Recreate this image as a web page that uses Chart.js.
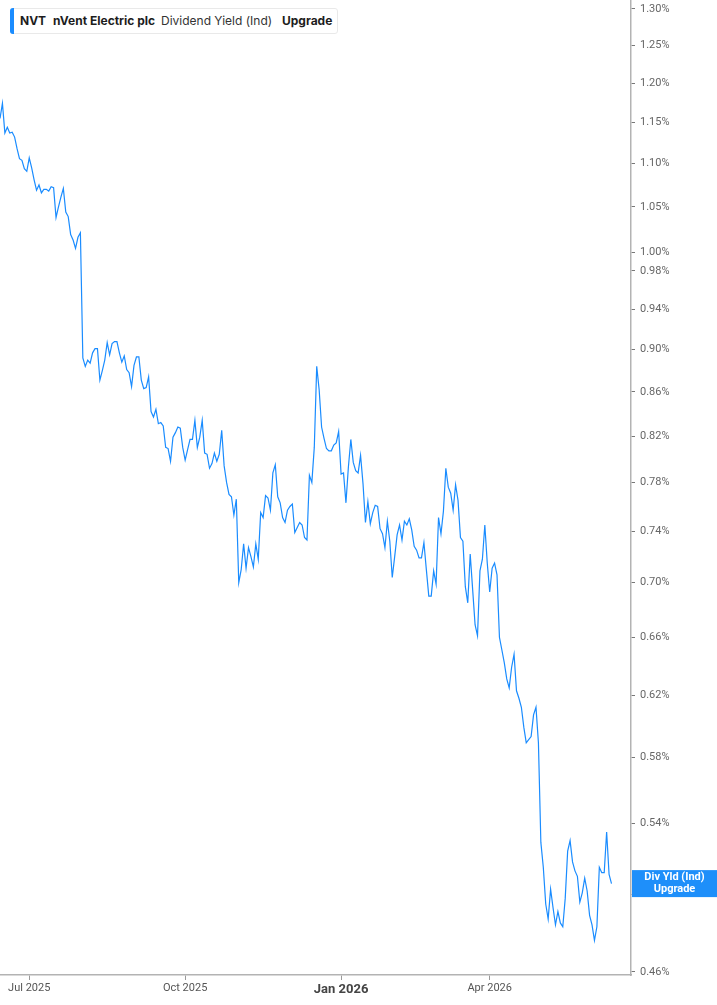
<!DOCTYPE html>
<html>
<head>
<meta charset="utf-8">
<script src="https://cdn.jsdelivr.net/npm/chart.js@4.4.1/dist/chart.umd.min.js"></script>
<style>
html,body{margin:0;padding:0;background:#fff;}
#wrap{position:relative;width:717px;height:1005px;overflow:hidden;}
#legend{position:absolute;left:10px;top:8px;width:328px;height:26px;border:1px solid #e9e9e9;border-radius:3px;box-sizing:border-box;background:#fff;font-family:Inter,'Noto Sans',sans-serif;font-size:12px;z-index:2;}
#legend .bar{position:absolute;left:-1px;top:-1px;width:4px;height:26px;background:#1a8cff;border-radius:3px 0 0 3px;}
#legend span{position:absolute;top:4px;white-space:nowrap;color:#1d1d1d;line-height:16px;}
#legend .b{font-weight:700;}
</style>
</head>
<body>
<div id="wrap">
  <canvas id="c"></canvas>
  <div id="legend">
    <div class="bar"></div>
    <span class="b" style="left:9px">NVT</span>
    <span class="b" style="left:42px">nVent Electric plc</span>
    <span style="left:150px;color:#333">Dividend Yield (Ind)</span>
    <span class="b" style="left:271px">Upgrade</span>
  </div>
</div>
<script>
// Trading-day index 0 = first day shown; value = indicated dividend yield (%)
const yieldPct = [
  1.155,1.174,1.137,1.144,1.137,1.138,1.132,1.118,1.106,1.104,
  1.094,1.091,1.107,1.095,1.081,1.069,1.075,1.066,1.070,1.070,
  1.068,1.073,1.072,1.038,1.050,1.061,1.071,1.044,1.039,1.019,
  1.013,1.004,1.016,1.021,0.892,0.884,0.890,0.887,0.897,0.901,
  0.901,0.871,0.880,0.890,0.907,0.895,0.906,0.908,0.908,0.897,
  0.888,0.894,0.881,0.878,0.865,0.885,0.893,0.893,0.871,0.863,
  0.864,0.874,0.842,0.837,0.844,0.831,0.832,0.829,0.810,0.809,
  0.798,0.819,0.823,0.828,0.827,0.810,0.799,0.808,0.817,0.817,
  0.834,0.810,0.819,0.834,0.805,0.804,0.792,0.796,0.805,0.798,
  0.804,0.825,0.794,0.780,0.770,0.768,0.753,0.766,0.700,0.710,
  0.730,0.711,0.727,0.720,0.712,0.730,0.718,0.755,0.751,0.769,
  0.767,0.757,0.788,0.795,0.768,0.763,0.751,0.747,0.757,0.760,
  0.762,0.739,0.743,0.747,0.745,0.735,0.733,0.786,0.780,0.810,
  0.884,0.862,0.828,0.818,0.809,0.807,0.807,0.812,0.814,0.824,
  0.787,0.788,0.763,0.793,0.817,0.797,0.790,0.788,0.803,0.779,
  0.747,0.764,0.746,0.755,0.761,0.760,0.742,0.738,0.727,0.748,
  0.732,0.704,0.720,0.737,0.745,0.733,0.748,0.745,0.750,0.741,
  0.728,0.725,0.719,0.719,0.731,0.710,0.690,0.690,0.709,0.699,
  0.751,0.738,0.756,0.792,0.776,0.771,0.757,0.778,0.765,0.735,
  0.732,0.697,0.685,0.722,0.695,0.669,0.661,0.709,0.718,0.745,
  0.715,0.693,0.711,0.715,0.706,0.660,0.651,0.642,0.631,0.625,
  0.639,0.648,0.623,0.618,0.612,0.599,0.589,0.591,0.593,0.607,
  0.612,0.589,0.529,0.515,0.495,0.487,0.503,0.493,0.484,0.491,
  0.485,0.483,0.498,0.524,0.530,0.518,0.513,0.510,0.496,0.501,
  0.509,0.502,0.489,0.484,0.476,0.483,0.515,0.512,0.512,0.535,
  0.511,0.506
];
const xTickDays = [12, 76, 140, 201];
const xTickLabels = ['Jul 2025', 'Oct 2025', 'Jan 2026', 'Apr 2026'];
const yTickValues = [0.46,0.50,0.54,0.58,0.62,0.66,0.70,0.74,0.78,0.82,0.86,0.90,0.94,0.98,1.00,1.05,1.10,1.15,1.20,1.25,1.30];
const seriesLabel = ['Div Yld (Ind)', 'Upgrade'];

const points = yieldPct.map((v, i) => ({x: i, y: v}));
const lineColor = '#1a8cff';

const endLabel = {
  id: 'endLabel',
  afterDraw(chart) {
    const ctx = chart.ctx;
    const ys = chart.scales.y;
    const last = yieldPct[yieldPct.length - 1];
    const py = ys.getPixelForValue(last);
    const left = chart.chartArea.right + 1;
    const w = chart.width - left;
    ctx.save();
    ctx.fillStyle = '#1e8ffa';
    ctx.fillRect(left, py - 13.5, w, 27);
    ctx.fillStyle = '#ffffff';
    ctx.font = 'bold 11px Roboto, "Liberation Sans", sans-serif';
    ctx.textAlign = 'center';
    ctx.textBaseline = 'middle';
    const cx = left + w / 2;
    ctx.fillText(seriesLabel[0], cx, py - 6);
    ctx.fillText(seriesLabel[1], cx, py + 6);
    ctx.restore();
  }
};

new Chart(document.getElementById('c'), {
  type: 'line',
  data: {
    datasets: [{
      data: points,
      borderColor: lineColor,
      borderWidth: 1.2,
      pointRadius: 0,
      tension: 0,
      fill: false
    }]
  },
  options: {
    responsive: true,
    maintainAspectRatio: false,
    animation: false,
    layout: {padding: {top: 1, left: 0, right: 0, bottom: 0}},
    plugins: {legend: {display: false}, tooltip: {enabled: false}},
    scales: {
      x: {
        type: 'linear',
        min: 0,
        max: 259,
        afterBuildTicks(s) { s.ticks = xTickDays.map(v => ({value: v})); },
        afterFit(s) { s.height = 30; s.paddingLeft = 0; s.paddingRight = 0; },
        grid: {drawOnChartArea: false, drawTicks: true, tickLength: 5, color: '#9a9a9a', lineWidth: 1},
        border: {display: true, color: '#b3b3b3', width: 1.5},
        ticks: {
          autoSkip: false,
          maxRotation: 0,
          padding: 2,
          callback(v) { const i = xTickDays.indexOf(v); return i >= 0 ? xTickLabels[i] : ''; },
          font(ctx) {
            return (ctx.tick && ctx.tick.value === 140)
              ? {family: 'Roboto', size: 13, weight: 'bold'}
              : {family: 'Roboto', size: 11};
          },
          color(ctx) { return (ctx.tick && ctx.tick.value === 140) ? '#444' : '#555'; }
        }
      },
      y: {
        type: 'logarithmic',
        position: 'right',
        min: 0.4585,
        max: 1.311,
        afterBuildTicks(s) { s.ticks = yTickValues.map(v => ({value: v})); },
        afterFit(s) { s.width = 86; s.paddingTop = 0; s.paddingBottom = 0; },
        grid: {drawOnChartArea: false, drawTicks: true, tickLength: 4, color: '#777', lineWidth: 1},
        border: {display: true, color: '#b3b3b3', width: 1.5},
        ticks: {
          autoSkip: false,
          padding: 5,
          callback(v) { return Number(v).toFixed(2) + '%'; },
          font: {family: 'Roboto', size: 11},
          color: '#666'
        }
      }
    }
  },
  plugins: [endLabel]
});
</script>
</body>
</html>
